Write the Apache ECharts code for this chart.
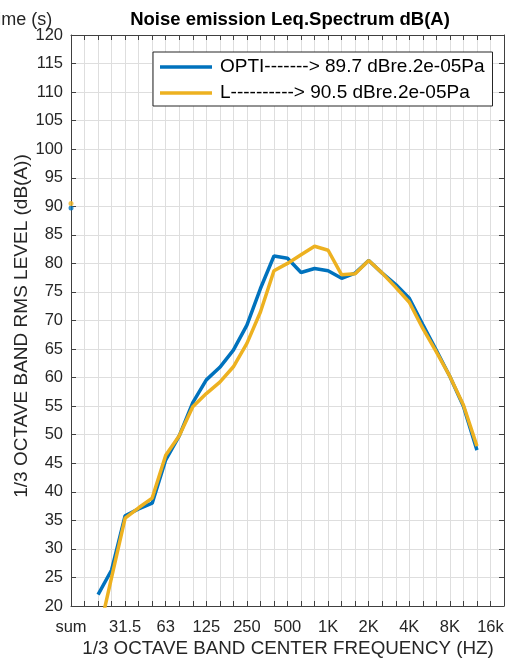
<!DOCTYPE html>
<html><head><meta charset="utf-8">
<script src="https://cdn.jsdelivr.net/npm/echarts@6/dist/echarts.min.js"></script>
<style>html,body{margin:0;padding:0;background:#fff}#c{width:510px;height:664px}</style>
</head><body><div id="c"></div>
<script>
const categories = ['sum','','20','25','31.5','40','50','63','80','100','125','160','200','250','315','400','500','630','800','1K','1.25K','1.6K','2K','2.5K','3.15K','4K','5K','6.3K','8K','10K','12.5K','16k',''];
const tickLabels = ['sum','','','','31.5','','','63','','','125','','','250','','','500','','','1K','','','2K','','','4K','','','8K','','','16k',''];
const optiValues = [null,null,22,26.3,35.8,37,38,45.6,49.8,55.6,59.6,61.8,64.8,69.2,75.6,81.3,80.9,78.4,79.1,78.7,77.4,78.3,80.5,78.3,76.3,73.9,69.3,64.8,60.2,55,47.3,null,null];
const lValues = [null,null,14.5,25,35.4,37.2,38.9,46.4,49.8,54.9,57.2,59.2,61.9,66,71.5,78.7,80,81.5,83,82.3,78,78.2,80.5,78.3,75.8,73.2,68.6,64.5,60.2,55.2,48,null,null];
const sumOpti = 89.7;
const sumL = 90.5;
const seriesNames = ['OPTI-------> 89.7 dBre.2e-05Pa', 'L----------> 90.5 dBre.2e-05Pa'];
const titleText = 'Noise emission Leq.Spectrum dB(A)';
const xName = '1/3 OCTAVE BAND CENTER FREQUENCY (HZ)';
const yName = '1/3 OCTAVE BAND RMS LEVEL (dB(A))';

const FF = '"Liberation Sans", Arial, Helvetica, sans-serif';
const AX = '#404040';
const GRID = '#dedede';
const chart = echarts.init(document.getElementById('c'), null, {renderer:'canvas'});
chart.setOption({
  animation: false,
  grid: {left: 71, right: 6, top: 35, bottom: 58, containLabel: false},
  legend: {
    data: seriesNames, orient: 'vertical', left: 153, top: 52,
    itemWidth: 52, itemHeight: 3.5, itemGap: 6, icon: 'rect',
    backgroundColor: '#fff', borderColor: '#262626', borderWidth: 1, borderRadius: 0,
    padding: [5, 8, 3, 7],
    textStyle: {fontSize: 19, color: '#000', fontFamily: FF, lineHeight: 20, padding: [0,0,0,3]}
  },
  xAxis: [{
    type: 'category', data: categories, boundaryGap: false, position: 'bottom',
    axisLine: {show: true, lineStyle: {color: AX, width: 1}},
    axisTick: {show: true, inside: true, length: 5, interval: 0, lineStyle: {color: AX}},
    axisLabel: {interval: 0, formatter: (v, i) => tickLabels[i], fontSize: 16.5, color: '#262626', fontFamily: FF, margin: 13},
    splitLine: {show: true, interval: 0, lineStyle: {color: GRID, width: 1}}
  }, {
    type: 'category', data: categories, boundaryGap: false, position: 'top',
    axisLine: {show: true, lineStyle: {color: AX, width: 1}},
    axisTick: {show: true, inside: true, length: 5, interval: 0, lineStyle: {color: AX}},
    axisLabel: {show: false}, splitLine: {show: false}
  }],
  yAxis: [{
    type: 'value', min: 20, max: 120, interval: 5, position: 'left',
    axisLine: {show: true, lineStyle: {color: AX, width: 1}},
    axisTick: {show: true, inside: true, length: 5, lineStyle: {color: AX}},
    axisLabel: {fontSize: 16.5, color: '#262626', fontFamily: FF, margin: 8},
    splitLine: {show: true, lineStyle: {color: GRID, width: 1}}
  }, {
    type: 'value', min: 20, max: 120, interval: 5, position: 'right',
    axisLine: {show: true, lineStyle: {color: AX, width: 1}},
    axisTick: {show: true, inside: true, length: 5, lineStyle: {color: AX}},
    axisLabel: {show: false}, splitLine: {show: false}
  }],
  series: [
    {name: seriesNames[0], type: 'line', data: optiValues, symbol: 'none', color: '#0072BD',
     lineStyle: {width: 3.5, color: '#0072BD'}, connectNulls: false, z: 3},
    {name: seriesNames[1], type: 'line', data: lValues, symbol: 'none', color: '#EDB120',
     lineStyle: {width: 3.5, color: '#EDB120'}, connectNulls: false, z: 4},
    {name: 'sumOpti', type: 'scatter', data: [[0, sumOpti]], symbolSize: 5, itemStyle: {color: '#0072BD'}, clip: false, z: 5},
    {name: 'sumL', type: 'scatter', data: [[0, sumL]], symbolSize: 5, itemStyle: {color: '#EDB120'}, clip: false, z: 5}
  ],
  graphic: [
    {type: 'text', x: -13, y: 11, style: {text: 'Time (s)', font: '18px ' + FF, fill: '#262626', textAlign: 'left', textVerticalAlign: 'alphabetic'}},
    {type: 'text', x: 290, y: 20, style: {text: titleText, font: 'bold 18.5px ' + FF, fill: '#000', textAlign: 'center', textVerticalAlign: 'middle'}},
    {type: 'text', x: 288, y: 649, style: {text: xName, font: '18.8px ' + FF, fill: '#262626', textAlign: 'center', textVerticalAlign: 'middle'}},
    {type: 'text', x: 22, y: 326, rotation: Math.PI/2, style: {text: yName, font: '19px ' + FF, fill: '#262626', textAlign: 'center', textVerticalAlign: 'middle'}}
  ]
});
</script></body></html>
